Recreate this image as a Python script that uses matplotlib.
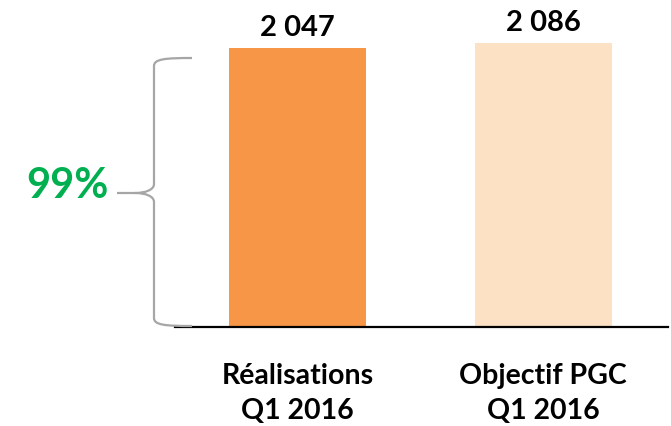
import matplotlib
matplotlib.use('Agg')
import matplotlib.pyplot as plt
from matplotlib.path import Path
from matplotlib.patches import PathPatch
import numpy as np

categories = ['Réalisations\nQ1 2016', 'Objectif PGC\nQ1 2016']
values = [2047, 2086]
value_labels = ['2 047', '2 086']
colors = ['#F79646', '#FCE1C5']
ratio_label = '99%'

plt.rcParams['font.family'] = ['Lato', 'DejaVu Sans']

W, H = 671, 426
fig = plt.figure(figsize=(W / 100, H / 100), dpi=100)

# axes placed in pixels: baseline at y=327, from x=175 to 668
ax = fig.add_axes([175 / W, 1 - 327 / H, (668 - 175) / W, 327 / H])
x = np.arange(len(categories))
ax.bar(x, values, width=0.558, color=colors)
ax.set_xlim(-0.499, 1.509)
ax.set_ylim(0, 2400)

for xi, v, lab in zip(x, values, value_labels):
    ax.annotate(lab, (xi, v), xytext=(0, 5), textcoords='offset points',
                ha='center', va='bottom', fontsize=21, fontweight='bold')

for xi, cat in zip(x, categories):
    ax.text(xi, -0.11, cat, transform=ax.get_xaxis_transform(),
            ha='center', va='top', fontsize=20.5, fontweight='bold',
            linespacing=1.42)

for s in ['top', 'right', 'left']:
    ax.spines[s].set_visible(False)
ax.spines['bottom'].set_linewidth(1.6)
ax.spines['bottom'].set_color('black')
ax.set_xticks([])
ax.set_yticks([])


# curly brace in pixel coords -> figure fraction
def p(px, py):
    return (px / W, 1 - py / H)


verts = [p(192, 58), p(165, 58), p(154, 59), p(154, 66),
         p(154, 184),
         p(154, 190), p(145, 193), p(135, 193),
         p(117, 193),
         p(135, 193),
         p(145, 193), p(154, 196), p(154, 202),
         p(154, 318),
         p(154, 325), p(165, 326), p(192, 326)]
codes = [Path.MOVETO, Path.CURVE4, Path.CURVE4, Path.CURVE4,
         Path.LINETO,
         Path.CURVE4, Path.CURVE4, Path.CURVE4,
         Path.LINETO,
         Path.MOVETO,
         Path.CURVE4, Path.CURVE4, Path.CURVE4,
         Path.LINETO,
         Path.CURVE4, Path.CURVE4, Path.CURVE4]
brace = PathPatch(Path(verts, codes), transform=fig.transFigure,
                  fill=False, edgecolor='#A6A6A6', linewidth=1.6)
fig.patches.append(brace)

fig.text(67 / W, 1 - 186 / H, ratio_label, ha='center', va='center',
         fontsize=30, fontweight='bold', color='#00B050')

fig.savefig('out.png', dpi=100)
